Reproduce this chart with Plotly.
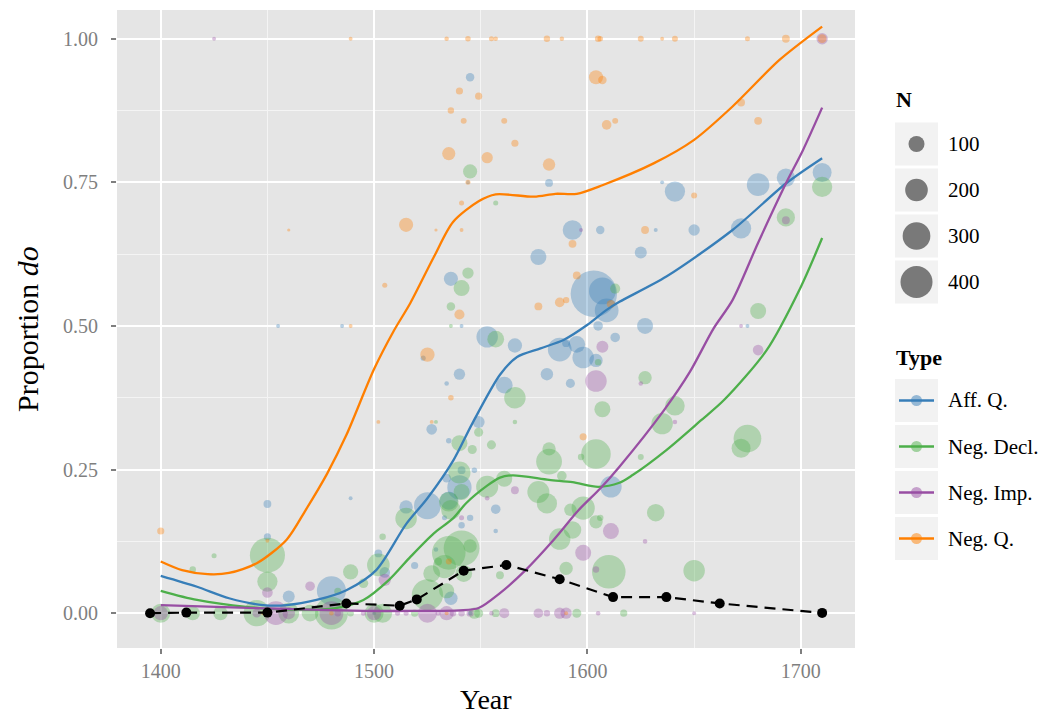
import plotly.graph_objects as go

# ---------------- data ----------------
types = ["Aff. Q.", "Neg. Decl.", "Neg. Imp.", "Neg. Q."]
colors = ["#377EB8", "#4DAF4A", "#984EA3", "#FF7F00"]

affq_year = [1545, 1544, 1536, 1582, 1593, 1606, 1635, 1641, 1680, 1693, 1710, 1632, 1650, 1672, 1577,
             1625, 1603, 1607, 1609, 1541, 1605, 1613, 1553, 1566, 1587, 1590, 1595, 1598, 1604, 1523,
             1540, 1581, 1592, 1534, 1561, 1527, 1549, 1535, 1541, 1547, 1534, 1540, 1611, 1515, 1525,
             1535, 1557, 1533, 1545, 1541, 1557, 1529, 1519, 1536, 1450, 1450, 1489, 1460, 1480, 1502,
             1505, 1455, 1485, 1627, 1675, 1500, 1545]
affq_prop = [0.933, 0.75, 0.582, 0.749, 0.667, 0.667, 0.75, 0.734, 0.746, 0.758, 0.767, 0.667, 0.667, 0.67, 0.62,
             0.628, 0.556, 0.561, 0.527, 0.5, 0.5, 0.48, 0.481, 0.466, 0.459, 0.47, 0.468, 0.445, 0.44, 0.444,
             0.416, 0.416, 0.4, 0.4, 0.397, 0.32, 0.333, 0.3, 0.249, 0.249, 0.235, 0.219, 0.22, 0.185, 0.187,
             0.196, 0.181, 0.166, 0.166, 0.153, 0.143, 0.111, 0.083, 0.026, 0.19, 0.133, 0.2, 0.029, 0.039, 0.104,
             0.071, 0.5, 0.5, 0.5, 0.5, 0.0, 0.0]
affq_n = [14, 3, 39, 12, 75, 14, 3, 80, 100, 65, 70, 3, 25, 80, 50,
          28, 420, 140, 110, 3, 18, 18, 90, 40, 110, 12, 55, 90, 35, 5,
          25, 30, 16, 4, 55, 22, 28, 6, 12, 6, 15, 115, 90, 35, 140,
          65, 18, 5, 8, 8, 4, 4, 10, 35, 12, 10, 3, 28, 165, 12,
          22, 3, 3, 50, 3, 3, 4]

decl_year = [1545, 1557, 1544, 1541, 1536, 1710, 1693, 1613, 1536, 1557, 1605, 1566, 1607, 1566, 1529,
             1549, 1540, 1555, 1546, 1582, 1582, 1597, 1604, 1540, 1561, 1588, 1541, 1553, 1577, 1581,
             1535, 1536, 1592, 1598, 1606, 1604, 1515, 1593, 1587, 1535, 1541, 1545, 1530, 1533, 1527,
             1542, 1559, 1590, 1610, 1525, 1534, 1415, 1425, 1450, 1450, 1483, 1489, 1495, 1504, 1502,
             1680, 1627, 1641, 1635, 1675, 1672, 1625, 1632, 1650, 1617,
             1400, 1415, 1428, 1445, 1460, 1470, 1480, 1500, 1504, 1519, 1547, 1549, 1557, 1595, 1489]
decl_prop = [0.769, 0.714, 0.592, 0.566, 0.534, 0.742, 0.689, 0.565, 0.5, 0.477, 0.437, 0.375, 0.355, 0.333, 0.333,
             0.315, 0.296, 0.293, 0.285, 0.286, 0.264, 0.272, 0.277, 0.245, 0.234, 0.239, 0.211, 0.22, 0.211, 0.191,
             0.194, 0.18, 0.18, 0.183, 0.166, 0.159, 0.165, 0.145, 0.129, 0.105, 0.113, 0.117, 0.09, 0.081, 0.069,
             0.069, 0.066, 0.078, 0.072, 0.032, 0.039, 0.076, 0.1, 0.101, 0.055, 0.038, 0.072, 0.052, 0.133, 0.084,
             0.526, 0.41, 0.361, 0.33, 0.304, 0.287, 0.272, 0.175, 0.074, 0.0,
             0.0, 0.0, 0.0, 0.0, 0.0, 0.0, 0.0, 0.0, 0.0, 0.0, 0.0, 0.0, 0.0, 0.0, 0.0]
decl_n = [39, 5, 25, 50, 14, 80, 65, 20, 3, 55, 8, 90, 50, 4, 3,
          16, 50, 16, 16, 35, 130, 8, 170, 95, 50, 18, 50, 95, 95, 80,
          75, 75, 30, 105, 8, 35, 90, 60, 90, 220, 250, 35, 12, 105, 55,
          55, 12, 35, 220, 190, 45, 8, 5, 240, 80, 10, 45, 18, 8, 100,
          50, 35, 75, 90, 150, 70, 7, 60, 90, 10,
          70, 40, 40, 135, 85, 55, 210, 70, 70, 10, 25, 16, 12, 16, 8]

imp_year = [1425, 1710, 1597, 1693, 1607, 1604, 1553, 1541, 1566, 1611, 1598, 1604, 1450, 1470, 1505,
            1672, 1680, 1625, 1641, 1627, 1650,
            1400, 1445, 1454, 1460, 1480, 1483, 1495, 1500, 1511, 1515, 1525, 1530, 1534, 1537, 1541,
            1545, 1555, 1561, 1577, 1581, 1587, 1590, 1605]
imp_prop = [1.0, 1.0, 0.667, 0.684, 0.464, 0.404, 0.2, 0.166, 0.214, 0.143, 0.105, 0.076, 0.036, 0.047, 0.058,
            0.5, 0.458, 0.4, 0.333, 0.125, 0.0,
            0.0, 0.0, 0.0, 0.0, 0.0, 0.0, 0.0, 0.0, 0.0, 0.0, 0.0, 0.0, 0.0, 0.0, 0.0,
            0.0, 0.0, 0.0, 0.0, 0.0, 0.0, 0.0, 0.0]
imp_n = [3, 25, 3, 12, 28, 90, 4, 5, 12, 50, 50, 8, 22, 18, 30,
         3, 22, 4, 4, 4, 3,
         40, 15, 110, 30, 110, 8, 5, 40, 5, 5, 70, 5, 40, 8, 8,
         10, 4, 20, 18, 8, 25, 25, 4]

negq_year = [1489, 1534, 1544, 1555, 1557, 1581, 1588, 1605, 1606, 1625, 1635, 1641, 1675, 1693, 1710,
             1540, 1549, 1536, 1542, 1535, 1553, 1544, 1541, 1515, 1529, 1541, 1460, 1505, 1561, 1566,
             1582, 1604, 1607, 1609, 1613, 1593, 1672, 1680, 1650, 1627, 1595, 1587, 1590, 1577, 1611,
             1540, 1525, 1536, 1527, 1502, 1598, 1535, 1400, 1450, 1489, 1448, 1480, 1534, 1590]
negq_prop = [1.0, 1.0, 1.0, 1.0, 1.0, 1.0, 1.0, 1.0, 1.0, 1.0, 1.0, 1.0, 1.0, 1.0, 1.0,
             0.909, 0.9, 0.875, 0.857, 0.8, 0.793, 0.75, 0.714, 0.676, 0.667, 0.667, 0.667, 0.571, 0.857, 0.818,
             0.781, 0.933, 0.928, 0.85, 0.857, 0.643, 0.889, 0.857, 0.727, 0.667, 0.588, 0.541, 0.545, 0.534, 0.538,
             0.52, 0.45, 0.375, 0.333, 0.333, 0.307, 0.09, 0.143, 0.126, 0.5, 0.0, 0.0, 0.0, 0.0]
negq_n = [3, 4, 6, 5, 4, 8, 4, 8, 6, 7, 3, 7, 5, 12, 15,
          10, 10, 8, 7, 34, 25, 5, 5, 39, 2, 3, 2, 5, 7, 10,
          30, 39, 14, 18, 7, 12, 12, 12, 7, 12, 12, 18, 8, 12, 14,
          20, 40, 6, 3, 3, 10, 7, 10, 3, 3, 3, 4, 3, 3]

# smoothed fits
affq_fit_year = [1400, 1417, 1432, 1448, 1459, 1473, 1487, 1501, 1515, 1525, 1537, 1546, 1559, 1567, 1578,
                 1589, 1600, 1609, 1615, 1637, 1668, 1693, 1710]
affq_fit = [0.065, 0.046, 0.026, 0.014, 0.014, 0.023, 0.04, 0.075, 0.155, 0.2, 0.265, 0.33, 0.415, 0.446, 0.461,
            0.476, 0.502, 0.528, 0.542, 0.586, 0.667, 0.748, 0.792]
decl_fit_year = [1400, 1417, 1440, 1464, 1482, 1495, 1507, 1517, 1528, 1537, 1543, 1553, 1559, 1565, 1582,
                 1593, 1605, 1615, 1621, 1637, 1653, 1664, 1684, 1700, 1710]
decl_fit = [0.039, 0.023, 0.011, 0.006, 0.009, 0.023, 0.058, 0.098, 0.139, 0.165, 0.191, 0.222, 0.236, 0.24, 0.232,
            0.228, 0.22, 0.227, 0.24, 0.284, 0.335, 0.371, 0.458, 0.568, 0.653]
imp_fit_year = [1400, 1448, 1495, 1520, 1540, 1549, 1559, 1571, 1584, 1596, 1606, 1615, 1636, 1648, 1659,
                1668, 1680, 1693, 1701, 1710]
imp_fit = [0.014, 0.0085, 0.004, 0.004, 0.005, 0.009, 0.035, 0.075, 0.127, 0.18, 0.217, 0.255, 0.354, 0.42, 0.495,
           0.545, 0.645, 0.748, 0.806, 0.88]
negq_fit_year = [1400, 1410, 1422, 1432, 1445, 1459, 1468, 1478, 1487, 1500, 1509, 1517, 1528,
                 1537, 1549, 1557, 1575, 1585, 1595, 1607, 1631, 1650, 1668, 1690, 1710]
negq_fit = [0.09, 0.075, 0.068, 0.07, 0.087, 0.128, 0.18, 0.243, 0.31, 0.425, 0.49, 0.54, 0.62,
            0.681, 0.717, 0.729, 0.725, 0.73, 0.73, 0.745, 0.783, 0.824, 0.882, 0.963, 1.021]

# overall proportion
all_year = [1395, 1412, 1450, 1487, 1512, 1520, 1542, 1562, 1587, 1612, 1637, 1662, 1710]
all_prop = [0.0, 0.001, 0.001, 0.017, 0.013, 0.024, 0.074, 0.084, 0.059, 0.028, 0.028, 0.017, 0.0005]

size_breaks = [100, 200, 300, 400]
x_ticks = [1400, 1500, 1600, 1700]
y_ticks = [0.0, 0.25, 0.5, 0.75, 1.0]
y_ticklabels = ["0.00", "0.25", "0.50", "0.75", "1.00"]

# ---------------- figure ----------------
W, H = 1060, 714
ML, MR, MT, MB = 117, 205, 10, 66
PW, PH = W - ML - MR, H - MT - MB
SIZEREF = 1 / 2.56
FONT = "Liberation Serif"


def hex_rgba(h, a):
    h = h.lstrip("#")
    return "rgba(%d,%d,%d,%s)" % (int(h[0:2], 16), int(h[2:4], 16), int(h[4:6], 16), a)


def pxx(x):
    return (x - ML) / PW


def pxy(y):
    return (H - MB - y) / PH


fig = go.Figure()

pts = [(affq_year, affq_prop, affq_n), (decl_year, decl_prop, decl_n),
       (imp_year, imp_prop, imp_n), (negq_year, negq_prop, negq_n)]
fits = [(affq_fit_year, affq_fit), (decl_fit_year, decl_fit), (imp_fit_year, imp_fit), (negq_fit_year, negq_fit)]

for (xs, ys, ns), c, name in zip(pts, colors, types):
    fig.add_trace(go.Scatter(x=xs, y=ys, mode="markers", name=name, showlegend=False,
                             marker=dict(size=ns, sizemode="area", sizeref=SIZEREF, sizemin=1.5,
                                         color=hex_rgba(c, 0.5), line=dict(width=0)),
                             hoverinfo="skip"))

for (xs, ys), c, name in zip(fits, colors, types):
    fig.add_trace(go.Scatter(x=xs, y=ys, mode="lines", name=name, showlegend=False,
                             line=dict(color=c, width=2.3, shape="spline", smoothing=0.8),
                             hoverinfo="skip"))

fig.add_trace(go.Scatter(x=all_year, y=all_prop, mode="lines+markers", showlegend=False,
                         line=dict(color="black", width=2.2, dash="11px,7px"),
                         marker=dict(color="black", size=10), hoverinfo="skip"))

# ---------------- manual legends ----------------
shapes = []
annotations = []
KEY_X0, KEY_X1 = 895, 938
KEY_CX = (KEY_X0 + KEY_X1) / 2
LABEL_X = 946
key_fill = "#F2F2F2"

annotations.append(dict(x=pxx(KEY_X0 - 1), y=pxy(100), xref="paper", yref="paper", text="<b>N</b>",
                        showarrow=False, xanchor="left", yanchor="middle",
                        font=dict(family=FONT, size=22, color="black")))
size_key_tops = [122.5, 168.5, 214.5, 260.5]
for n, top in zip(size_breaks, size_key_tops):
    cy = top + 21.5
    shapes.append(dict(type="rect", xref="paper", yref="paper", x0=pxx(KEY_X0), x1=pxx(KEY_X1),
                       y0=pxy(top + 43), y1=pxy(top), fillcolor=key_fill, line=dict(width=0), layer="above"))
    r = (n / SIZEREF) ** 0.5 / 2
    shapes.append(dict(type="circle", xref="paper", yref="paper", xsizemode="pixel", ysizemode="pixel",
                       xanchor=pxx(KEY_CX), yanchor=pxy(cy), x0=-r, x1=r, y0=-r, y1=r,
                       fillcolor="rgba(0,0,0,0.5)", line=dict(width=0), layer="above"))
    annotations.append(dict(x=pxx(LABEL_X), y=pxy(cy), xref="paper", yref="paper", text=str(n),
                            showarrow=False, xanchor="left", yanchor="middle",
                            font=dict(family=FONT, size=21, color="black")))

annotations.append(dict(x=pxx(KEY_X0 - 1), y=pxy(357), xref="paper", yref="paper", text="<b>Type</b>",
                        showarrow=False, xanchor="left", yanchor="middle",
                        font=dict(family=FONT, size=22, color="black")))
type_key_tops = [379, 425, 471, 517]
for name, c, top in zip(types, colors, type_key_tops):
    cy = top + 21.5
    shapes.append(dict(type="rect", xref="paper", yref="paper", x0=pxx(KEY_X0), x1=pxx(KEY_X1),
                       y0=pxy(top + 43), y1=pxy(top), fillcolor=key_fill, line=dict(width=0), layer="above"))
    shapes.append(dict(type="line", xref="paper", yref="paper", x0=pxx(KEY_X0 + 4), x1=pxx(KEY_X1 - 4),
                       y0=pxy(cy), y1=pxy(cy), line=dict(color=c, width=2.3), layer="above"))
    shapes.append(dict(type="circle", xref="paper", yref="paper", xsizemode="pixel", ysizemode="pixel",
                       xanchor=pxx(KEY_CX), yanchor=pxy(cy), x0=-5.5, x1=5.5, y0=-5.5, y1=5.5,
                       fillcolor=hex_rgba(c, 0.5), line=dict(width=0), layer="above"))
    annotations.append(dict(x=pxx(LABEL_X), y=pxy(cy), xref="paper", yref="paper", text=name,
                            showarrow=False, xanchor="left", yanchor="middle",
                            font=dict(family=FONT, size=21, color="black")))

# axis titles
annotations.append(dict(x=0.5, y=pxy(699), xref="paper", yref="paper", text="Year", showarrow=False,
                        xanchor="center", yanchor="middle", font=dict(family=FONT, size=28, color="black")))
annotations.append(dict(x=pxx(27), y=0.5, xref="paper", yref="paper", text="Proportion <i>do</i>",
                        showarrow=False, textangle=-90, xanchor="center", yanchor="middle",
                        font=dict(family=FONT, size=30, color="black")))

fig.update_layout(
    width=W, height=H,
    margin=dict(l=ML, r=MR, t=MT, b=MB, pad=0),
    paper_bgcolor="white", plot_bgcolor="#E5E5E5",
    font=dict(family=FONT),
    showlegend=False,
    shapes=shapes, annotations=annotations,
    xaxis=dict(range=[1379.5, 1725.4], tickvals=x_ticks, ticktext=[str(t) for t in x_ticks],
               showgrid=True, gridcolor="white", gridwidth=2, zeroline=False, showline=False,
               ticks="outside", ticklen=5, tickwidth=1.5, tickcolor="#7F7F7F",
               tickfont=dict(family=FONT, size=20, color="#7F7F7F"),
               minor=dict(tickvals=[1450, 1550, 1650], showgrid=True, gridcolor="#F4F4F4", gridwidth=1, ticklen=0)),
    yaxis=dict(range=[-0.0606, 1.05], tickvals=y_ticks, ticktext=y_ticklabels,
               showgrid=True, gridcolor="white", gridwidth=2, zeroline=False, showline=False,
               ticks="outside", ticklen=5, tickwidth=1.5, tickcolor="#7F7F7F",
               tickfont=dict(family=FONT, size=20, color="#7F7F7F"), ticklabelstandoff=9,
               minor=dict(tickvals=[0.125, 0.375, 0.625, 0.875], showgrid=True, gridcolor="#F4F4F4",
                          gridwidth=1, ticklen=0)),
)

fig.write_html("out.html")
